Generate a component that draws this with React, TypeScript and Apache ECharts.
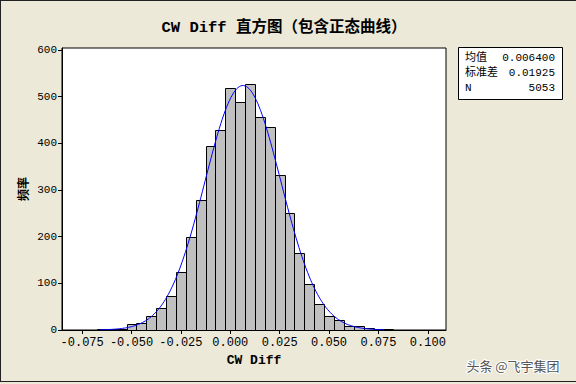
import React, { useEffect, useRef } from "react";
import * as echarts from "echarts";

// Histogram bins (centers) and counts
const BIN_WIDTH = 0.005;
const BIN_CENTERS = [
  -0.065, -0.06, -0.055, -0.05, -0.045, -0.04, -0.035, -0.03, -0.025, -0.02,
  -0.015, -0.01, -0.005, 0.0, 0.005, 0.01, 0.015, 0.02, 0.025, 0.03,
  0.035, 0.04, 0.045, 0.05, 0.055, 0.06, 0.065, 0.07, 0.075, 0.08,
];
const COUNTS = [
  2, 3, 3, 12, 14, 29, 47, 73, 124, 200,
  279, 394, 428, 518, 488, 527, 456, 434, 332, 250,
  165, 98, 55, 31, 21, 9, 8, 5, 2, 2,
];

// Summary statistics shown in the box (define the fitted normal curve)
const MEAN = 0.0064;
const STDEV = 0.01925;
const N = 5053;
const CURVE_FROM = -0.066;
const CURVE_TO = 0.078;

const X_TICKS = [-0.075, -0.05, -0.025, 0, 0.025, 0.05, 0.075, 0.1];
const Y_TICKS = [0, 100, 200, 300, 400, 500, 600];

const STAT_LABELS = ["均值", "标准差", "N"];
const STAT_VALUES = ["0.006400", "0.01925", "5053"];

const TITLE = "CW Diff 直方图（包含正态曲线）";
const X_NAME = "CW Diff";
const Y_NAME = "频率";
const WATERMARK = "头条 @飞宇集团";

const FONT = "'Liberation Mono', 'Noto Sans CJK SC', monospace";

export default function App() {
  const ref = useRef<HTMLDivElement>(null);

  useEffect(() => {
    document.body.style.margin = "0";
    if (!ref.current) return;
    const chart = echarts.init(ref.current, undefined, { renderer: "svg" });

    const curve: number[][] = [];
    const steps = 200;
    for (let i = 0; i <= steps; i++) {
      const x = CURVE_FROM + ((CURVE_TO - CURVE_FROM) * i) / steps;
      const z = (x - MEAN) / STDEV;
      const y = (N * BIN_WIDTH) / (STDEV * Math.sqrt(2 * Math.PI)) * Math.exp(-0.5 * z * z);
      curve.push([x, y]);
    }

    const bars = BIN_CENTERS.map((c, i) => [c, COUNTS[i]]);

    chart.setOption({
      animation: false,
      backgroundColor: "#ECE9D8",
      grid: {
        left: 62,
        right: 130,
        top: 48,
        bottom: 54,
        show: true,
        backgroundColor: "#ffffff",
        borderColor: "#000000",
        borderWidth: 1,
      },
      xAxis: {
        type: "value",
        min: -0.0852,
        max: 0.1092,
        name: X_NAME,
        nameLocation: "middle",
        nameGap: 24,
        nameMoveOverlap: false,
        nameTextStyle: { fontFamily: FONT, fontSize: 13, fontWeight: "bold", color: "#000" },
        axisLine: { show: true, onZero: false, lineStyle: { color: "#000", width: 1 } },
        axisTick: { show: true, length: 4, customValues: X_TICKS, lineStyle: { color: "#000" } },
        axisLabel: {
          customValues: X_TICKS,
          formatter: (v: number) => v.toFixed(3),
          fontFamily: FONT,
          fontSize: 12,
          color: "#000",
          margin: 7,
        },
        splitLine: { show: false },
      },
      yAxis: {
        type: "value",
        min: 0,
        max: 604,
        name: Y_NAME,
        nameLocation: "middle",
        nameGap: 31,
        nameMoveOverlap: false,
        nameTextStyle: { fontFamily: FONT, fontSize: 12, fontWeight: "bold", color: "#000" },
        axisLine: { show: true, onZero: false, lineStyle: { color: "#000", width: 1 } },
        axisTick: { show: true, length: 4, customValues: Y_TICKS, lineStyle: { color: "#000" } },
        axisLabel: {
          customValues: Y_TICKS,
          fontFamily: FONT,
          fontSize: 11,
          color: "#000",
          margin: 5,
        },
        splitLine: { show: false },
      },
      series: [
        {
          type: "custom",
          data: bars,
          encode: { x: 0, y: 1 },
          renderItem: (params: any, api: any) => {
            const c = api.value(0);
            const v = api.value(1);
            const p0 = api.coord([c - BIN_WIDTH / 2, v]);
            const p1 = api.coord([c + BIN_WIDTH / 2, 0]);
            const x0 = Math.round(p0[0]) + 0.5;
            const x1 = Math.round(p1[0]) + 0.5;
            const y0 = Math.round(p0[1]) + 0.5;
            const y1 = Math.round(p1[1]) + 0.5;
            return {
              type: "rect",
              shape: { x: x0, y: y0, width: x1 - x0, height: y1 - y0 },
              style: { fill: "#C0C0C0", stroke: "#000", lineWidth: 1 },
            };
          },
          z: 2,
        },
        {
          type: "line",
          data: curve,
          showSymbol: false,
          symbol: "none",
          lineStyle: { color: "#0000FF", width: 1 },
          z: 3,
        },
      ],
      graphic: [
        {
          type: "text",
          x: 284,
          y: 28,
          style: {
            text: TITLE,
            font: `bold 15.5px ${FONT}`,
            fill: "#000",
            align: "center",
            verticalAlign: "middle",
          },
        },
        {
          type: "rect",
          shape: { x: 458.5, y: 47.5, width: 104, height: 52 },
          style: { fill: "#fff", stroke: "#000", lineWidth: 1 },
        },
        ...STAT_LABELS.map((t, i) => ({
          type: "text",
          x: 465,
          y: 58 + i * 15,
          style: { text: t, font: `11px ${FONT}`, fill: "#000", align: "left", verticalAlign: "middle" },
        })),
        ...STAT_VALUES.map((t, i) => ({
          type: "text",
          x: 555,
          y: 58 + i * 15,
          style: { text: t, font: `11px ${FONT}`, fill: "#000", align: "right", verticalAlign: "middle" },
        })),
        {
          type: "line",
          shape: { x1: 0.5, y1: 0, x2: 0.5, y2: 382 },
          style: { stroke: "#222", lineWidth: 1 },
        },
        {
          type: "line",
          shape: { x1: 0, y1: 0.5, x2: 576, y2: 0.5 },
          style: { stroke: "#222", lineWidth: 1 },
        },
        {
          type: "line",
          shape: { x1: 0, y1: 381.5, x2: 576, y2: 381.5 },
          style: { stroke: "#222", lineWidth: 1 },
        },
        {
          type: "text",
          x: 513,
          y: 365,
          style: {
            text: WATERMARK,
            font: `13px 'Noto Sans CJK SC', sans-serif`,
            fill: "#555",
            stroke: "#fff",
            lineWidth: 2,
            align: "center",
            verticalAlign: "middle",
          },
        },
      ],
    });

    return () => chart.dispose();
  }, []);

  return <div ref={ref} style={{ width: 576, height: 384, background: "#ECE9D8" }} />;
}
